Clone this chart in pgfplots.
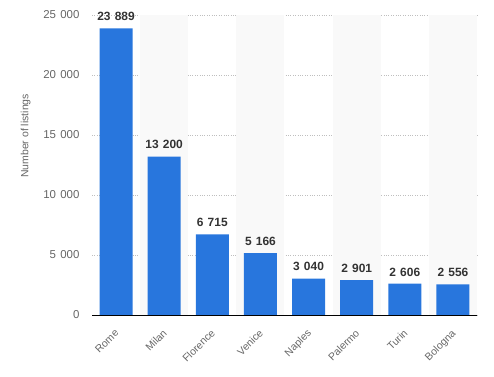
\documentclass[border=0pt]{standalone}
\usepackage{pgfplots}
\pgfplotsset{compat=1.18}
\usepackage{fontspec}
\setmainfont{Liberation Sans}
\definecolor{barblue}{RGB}{40,118,221}
\definecolor{tickgray}{RGB}{102,102,102}
\definecolor{valgray}{RGB}{51,51,51}
\definecolor{stripe}{RGB}{249,249,249}
\begin{document}
\begin{tikzpicture}
\useasboundingbox (0,0) rectangle (494bp,377bp);
\begin{axis}[
  at={(92bp,62bp)}, anchor=south west,
  scale only axis, width=385bp, height=300bp,
  xmin=-0.5, xmax=7.5, ymin=0, ymax=25000,
  axis line style={draw=none},
  ytick={0,5000,10000,15000,20000,25000},
  xtick=data,
  xticklabels={Rome,Milan,Florence,Venice,Naples,Palermo,Turin,Bologna},
  xticklabel style={xshift=-2bp, yshift=-12bp, rotate=45, anchor=north east, font=\fontsize{10.5}{12}\selectfont, text=tickgray, inner sep=1pt},
  yticklabel style={font=\fontsize{11.5}{13}\selectfont, text=tickgray, xshift=-9bp},
  /pgf/number format/assume math mode=true,
  /pgf/number format/1000 sep={\hspace{0.38em}},
  scaled y ticks=false,
  major tick length=0pt,
  ymajorgrids, grid style={dotted, line width=0.5pt, gray!50},
  ylabel={Number of listings},
  ylabel style={font=\fontsize{10.5}{12}\selectfont, text=tickgray, at={(axis description cs:-0.172,0.597)}, anchor=center},
  clip=false,
  ybar, bar width=33bp,
  nodes near coords,
  every node near coord/.append style={font=\bfseries\fontsize{12}{14}\selectfont, text=valgray, /pgf/number format/1000 sep={\hspace{0.35em}}, yshift=4pt},
]
\fill[stripe] (axis cs:0.5,0) rectangle (axis cs:1.5,25000);
\fill[stripe] (axis cs:2.5,0) rectangle (axis cs:3.5,25000);
\fill[stripe] (axis cs:4.5,0) rectangle (axis cs:5.5,25000);
\fill[stripe] (axis cs:6.5,0) rectangle (axis cs:7.5,25000);
\addplot[fill=barblue, draw=none] coordinates {(0,23889) (1,13200) (2,6715) (3,5166) (4,3040) (5,2901) (6,2606) (7,2556)};
\draw[black, line width=0.8pt] (axis cs:-0.5,0) -- (axis cs:7.5,0);
\end{axis}
\end{tikzpicture}
\end{document}
